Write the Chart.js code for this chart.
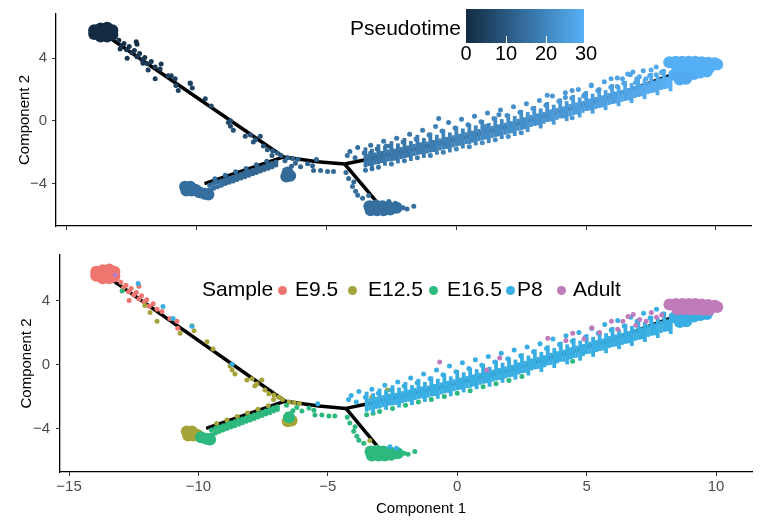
<!DOCTYPE html>
<html>
<head>
<meta charset="utf-8">
<script src="https://cdn.jsdelivr.net/npm/chart.js@4.4.0/dist/chart.umd.min.js"></script>
<style>
  body { margin: 0; background: #fff; }
  #page { position: relative; width: 763px; height: 528px; overflow: hidden; font-family: "Liberation Sans", Arial, sans-serif; }
  .panel { position: absolute; left: 0; width: 763px; }
  #topPanel { top: 0; height: 240px; }
  #botPanel { top: 240px; height: 288px; }
  .lbl { position: absolute; white-space: nowrap; line-height: 1; color: #000; }
  .dot { position: absolute; width: 9px; height: 9px; border-radius: 50%; }
</style>
</head>
<body>
<div id="page">
  <div class="panel" id="topPanel"><canvas id="topChart"></canvas></div>
  <div class="panel" id="botPanel"><canvas id="botChart"></canvas></div>
</div>
<script>
// axis ticks
const xTicks = [-15, -10, -5, 0, 5, 10];
const yTicks = [-4, 0, 4];
const pseudotimeTicks = [0, 10, 20, 30];
const samples = ['E9.5', 'E12.5', 'E16.5', 'P8', 'Adult'];

// cells as [component1, component2, pseudotime]; "core" = dense blobs of cells
const e95Core = [[-13.95,5.55,0],[-13.95,5.8,0],[-13.7,5.4,0],[-13.7,5.65,0],[-13.7,5.9,0],[-13.45,5.4,0],
  [-13.45,5.65,0],[-13.45,5.95,0],[-13.25,5.5,0],[-13.25,5.8,0]];
const e95Cells = [[-13.0,5.15,1],[-12.9,4.8,1],[-12.8,4.95,1],[-12.7,4.55,1],[-12.6,4.75,1],[-12.5,4.35,2],
  [-12.4,4.5,2],[-12.3,4.1,2],[-12.2,4.3,2],[-12.1,3.9,2],[-12.0,4.05,2],[-11.9,3.65,3],[-11.75,3.8,3],
  [-11.6,3.45,3],[-11.41,3.32,3],[-11.1,2.88,4],[-10.83,2.7,4],[-10.8,2.26,5],[-12.68,4.0,2],[-12.3,4.9,1]];

const e125Core = [[-10.45,-4.2,15],[-10.25,-4.2,15],[-10.4,-4.45,15],[-10.2,-4.45,15],[-10.05,-4.4,15],
  [-6.55,-3.55,14],[-6.4,-3.5,14]];
const e125Cells = [[-11.6,2.7,4],[-12.07,3.69,3],[-11.87,3.25,4],[-10.71,1.95,5],[-10.25,2.43,5],[-10.17,2.11,5],
  [-9.67,1.42,6],[-9.44,0.96,6],[-8.78,-0.1,7],[-8.7,-0.34,7],[-8.59,-0.6,8],[-8.13,-0.97,8],[-7.93,-0.9,8],
  [-7.74,-1.2,9],[-7.55,-0.97,9],[-7.43,-1.6,9],[-7.28,-1.84,10],[-7.82,-1.35,9],[-7.08,-1.91,10],[-6.9,-2.05,11],
  [-6.75,-2.2,11],[-6.5,-2.35,12],[-6.3,-2.4,12],[-7.1,-2.2,10],[-6.1,-2.45,12],
  [-9.3,-3.69,15],[-8.9,-3.47,14],[-8.5,-3.25,14],[-8.1,-3.03,14],[-7.7,-2.8,13],[-7.3,-2.58,13],
  [-3.38,-4.76,15],[-3.3,-2.05,16],[-2.7,-1.6,16]];

const e165Core = [[-9.9,-4.55,15],[-9.7,-4.65,15],[-9.55,-4.7,15],[-6.5,-3.3,14],
  [-3.35,-5.45,15],[-3.1,-5.4,15],[-2.85,-5.45,15],[-2.6,-5.5,15],[-3.3,-5.7,15],[-3.05,-5.7,15],
  [-2.8,-5.7,15],[-2.55,-5.65,15],[-2.3,-5.55,15]];
const e165Cells = [[-9.5,-4.1,15],[-9.5,-4.4,15],[-9.35,-4.0,15],[-9.35,-4.3,15],[-9.2,-3.92,15],[-9.2,-4.2,15],
  [-9.05,-3.84,15],[-9.05,-4.1,15],[-8.9,-3.75,14],[-8.9,-4.0,14],[-8.75,-3.67,14],[-8.75,-3.92,14],
  [-8.6,-3.59,14],[-8.6,-3.83,14],[-8.45,-3.5,14],[-8.45,-3.74,14],[-8.3,-3.42,14],[-8.3,-3.65,14],
  [-8.15,-3.34,14],[-8.15,-3.56,14],[-8.0,-3.25,14],[-8.0,-3.47,14],[-7.85,-3.17,13],[-7.85,-3.38,13],
  [-7.7,-3.09,13],[-7.7,-3.29,13],[-7.55,-3.0,13],[-7.55,-3.2,13],[-7.4,-2.92,13],[-7.4,-3.1,13],
  [-7.25,-2.84,13],[-7.25,-3.02,13],[-7.1,-2.72,13],[-7.1,-2.92,13],[-6.95,-2.64,13],[-6.95,-2.82,13],
  [-6.6,-2.55,13],[-6.2,-2.7,13],[-6.0,-2.92,13],[-5.73,-2.73,13],[-5.54,-2.86,13],[-5.5,-3.17,13],[-5.23,-3.17,14],
  [-4.96,-3.23,14],[-4.73,-3.23,14],[-6.35,-2.9,13],
  [-4.25,-3.3,14],[-4.15,-3.67,14],[-3.95,-3.9,14],[-4.0,-4.18,15],[-3.88,-4.49,15],[-3.8,-4.74,15],[-3.61,-4.93,15],
  [-2.05,-5.55,15],[-1.9,-5.62,15],[-1.64,-5.45,15],[-12.95,4.6,1],
  [-3.5,-3.15,16],[-3.25,-3.05,16],[-3.0,-2.95,16],[-2.5,-2.75,17],[-2.0,-2.55,17],[-1.5,-2.35,18],[-1.0,-2.2,18],
  [-0.5,-2.0,19],[0.0,-1.8,20],[0.5,-1.65,20],[1.0,-1.4,21],[1.5,-1.2,21],[2.0,-1.0,22],[2.5,-0.75,22],[4.46,0.2,24]];

const p8Core = [[8.4,2.95,28],[8.65,2.9,28],[8.9,2.95,28],[9.15,3.0,28],[9.4,3.1,29],[9.65,3.15,29],
  [8.6,2.65,28],[8.85,2.7,28]];
// vertical combs of cells along the main branch (long and short ones)
const p8Streaks = [[-3.5,-2.33,16],[-3.25,-2.42,16],[-3.0,-2.13,16],[-2.75,-2.22,17],[-2.5,-1.93,17],[-2.25,-2.07,17],
  [-2.0,-1.73,17],[-1.75,-1.92,18],[-1.5,-1.53,18],[-1.25,-1.72,18],[-1.0,-1.38,18],[-0.75,-1.52,19],[-0.5,-1.18,19],
  [-0.25,-1.37,19],[0.0,-0.98,20],[0.25,-1.12,20],[0.5,-0.83,20],[0.75,-0.92,20],[1.0,-0.58,21],[1.25,-0.77,21],
  [1.5,-0.38,21],[1.75,-0.52,21],[2.0,-0.18,22],[2.25,-0.32,22],[2.5,0.07,22],[2.75,-0.07,23],[3.0,0.32,23],
  [3.25,0.16,23],[3.5,0.57,23],[3.75,0.4,24],[4.0,0.8,24],[4.25,0.63,24],[4.5,1.02,25],[4.75,0.86,25],
  [5.0,1.27,25],[5.25,1.1,25],[5.5,1.47,26],[5.75,1.33,26],[6.0,1.72,26],[6.25,1.58,27],[6.5,1.92,27],
  [6.75,1.78,27],[7.0,2.17,27],[7.25,2.03,28],[7.5,2.42,28],[7.75,2.28,28],[8.0,2.67,29],[8.25,2.53,29]];
const p8ShortStreaks = [[-3.375,-2.5,16],[-3.125,-2.4,16],[-2.875,-2.3,16],[-2.625,-2.2,17],[-2.375,-2.15,17],
  [-2.125,-2.05,17],[-1.875,-1.95,17],[-1.625,-1.85,18],[-1.375,-1.75,18],[-1.125,-1.7,18],[-0.875,-1.6,18],
  [-0.625,-1.5,19],[-0.375,-1.4,19],[-0.125,-1.3,19],[0.125,-1.2,20],[0.375,-1.1,20],[0.625,-1.0,20],
  [0.875,-0.9,20],[1.125,-0.8,21],[1.375,-0.7,21],[1.625,-0.6,21],[1.875,-0.5,21],[2.125,-0.4,22],
  [2.375,-0.25,22],[2.625,-0.15,22],[2.875,0.0,23],[3.125,0.1,23],[3.375,0.2,23],[3.625,0.35,24],
  [3.875,0.45,24],[4.125,0.55,24],[4.375,0.7,24],[4.625,0.8,25],[4.875,0.9,25],[5.125,1.05,25],[5.375,1.15,25],
  [5.625,1.25,26],[5.875,1.4,26],[6.125,1.5,26],[6.375,1.6,27],[6.625,1.7,27],[6.875,1.85,27],[7.125,1.95,28],
  [7.375,2.1,28],[7.625,2.2,28],[7.875,2.35,28],[8.125,2.45,29]];
const p8Cells = [[-4.1,-1.95,15],[-3.8,-1.7,15],[-3.55,-2.05,16],[-3.3,-1.55,16],[-3.05,-1.8,16],[-2.8,-1.3,16],
  [-2.55,-1.6,17],[-2.3,-1.1,17],[-2.05,-1.35,17],[-1.8,-0.85,17],[-1.55,-1.15,18],[-1.3,-0.6,18],[-1.05,-0.9,18],
  [-0.8,-0.35,19],[-0.55,-0.65,19],[-0.3,-0.1,19],[-0.05,-0.45,19],[0.2,0.1,20],[0.45,-0.25,20],[0.7,0.3,20],
  [0.95,-0.05,20],[1.2,0.5,21],[1.45,0.15,21],[1.7,0.7,21],[1.95,0.35,22],[2.2,0.9,22],[2.45,0.55,22],
  [2.7,1.1,23],[2.95,0.8,23],[3.2,1.3,23],[3.45,1.0,23],[3.7,1.6,24],[3.95,1.25,24],[4.2,1.8,24],[4.45,1.45,24],
  [4.7,2.0,25],[4.95,1.7,25],[5.2,2.25,25],[5.45,1.95,26],[5.7,2.5,26],[5.95,2.15,26],[6.2,2.75,26],
  [6.45,2.4,27],[6.7,2.95,27],[6.95,2.7,27],[7.2,3.2,27],[7.45,2.9,28],[7.7,3.45,28],[7.95,3.15,28],
  [-4.2,-2.2,15],[-3.9,-2.35,15],
  [-12.33,5.06,1],[-11.37,3.63,3],[-10.98,2.88,4],[-10.25,2.39,5],[-8.7,0.02,7],[-5.39,-2.46,13],
  [-2.6,-5.15,15],[-2.35,-5.25,15]];

const adultCore = [[8.2,3.75,29],[8.45,3.78,29],[8.7,3.78,29],[8.95,3.78,29],[9.2,3.78,29],[9.45,3.75,29],
  [9.7,3.72,29],[9.95,3.68,29],[8.5,3.45,29],[8.75,3.45,29],[9.0,3.45,29],[9.25,3.45,29],[9.5,3.42,29],
  [9.75,3.42,29],[10.05,3.6,29]];
const adultCells = [[3.5,1.64,24],[4.46,1.95,24],[4.9,1.6,25],[5.5,2.0,25],[5.96,2.7,26],[6.4,2.7,26],[6.8,3.13,27],
  [7.05,2.82,27],[6.9,2.45,27],[7.5,3.25,28],[7.7,2.95,28],[-0.68,0.15,19],[1.64,0.4,21],[1.14,-0.35,21],
  [5.2,2.3,25],[6.2,2.2,26],[7.3,2.7,28],[7.9,3.1,28],[4.2,1.5,24],[6.6,3.0,27],[-13.22,5.6,0]];

// trajectory tree edges
const trajectory = [
  [[-13.3,5.25],[-6.65,-2.3]],
  [[-9.7,-4.0],[-6.65,-2.3]],
  [[-6.65,-2.3],[-5.35,-2.6],[-4.3,-2.75]],
  [[-4.3,-2.75],[-3.1,-5.1]],
  [[-4.3,-2.75],[-3.5,-2.48],[-0.7,-1.45],[1.9,-0.41],[3.8,0.52],[5.8,1.45],[8.4,3.0]]
];

const sampleCells = [e95Cells, e125Cells, e165Cells, p8Cells, adultCells];
const sampleCores = [e95Core, e125Core, e165Core, p8Core, adultCore];
const sampleStreaks = [[], [], [], p8Streaks, []];
const sampleShortStreaks = [[], [], [], p8ShortStreaks, []];
const sampleColors = ['#EE766F', '#A4A43A', '#2DB87E', '#38AEE3', '#C07BBA'];

const PT_LOW = [19, 43, 67], PT_HIGH = [86, 177, 247], PT_MAX = 29.5;
function ptColor(t) {
  const f = Math.max(0, Math.min(1, t / PT_MAX));
  const c = PT_LOW.map((lo, i) => Math.round(lo + (PT_HIGH[i] - lo) * f));
  return `rgb(${c[0]},${c[1]},${c[2]})`;
}

const fmt = (v) => (v < 0 ? '\u2212' + Math.abs(v) : String(v));
const toPts = (arr) => arr.map(([x, y, t]) => ({ x, y, t }));

Chart.defaults.font.family = '"Liberation Sans", Arial, sans-serif';

function makeChart(id, cfg) {
  const datasets = [];
  trajectory.forEach((edge) => {
    datasets.push({
      data: edge.map(([x, y]) => ({ x, y })),
      showLine: true, pointRadius: 0, borderColor: '#000', borderWidth: 3.5,
      borderJoinStyle: 'round', order: 100,
    });
  });
  samples.forEach((s, i) => {
    const color = cfg.byTime ? (ctx) => ptColor(ctx.raw ? ctx.raw.t : 0) : sampleColors[i];
    datasets.push({
      label: s + ' core', data: toPts(sampleCores[i]), pointRadius: 6, pointBorderWidth: 0,
      pointBackgroundColor: color, order: 60 - i * 4,
    });
    datasets.push({
      label: s + ' comb', data: toPts(sampleStreaks[i]), pointStyle: 'line', rotation: 90,
      pointRadius: 10, pointBorderWidth: 3.8, pointBorderColor: color, order: 59 - i * 4,
    });
    datasets.push({
      label: s + ' short comb', data: toPts(sampleShortStreaks[i]), pointStyle: 'line', rotation: 90,
      pointRadius: 6, pointBorderWidth: 3.2, pointBorderColor: color, order: 58 - i * 4,
    });
    datasets.push({
      label: s, data: toPts(sampleCells[i]), pointRadius: 2.5, pointBorderWidth: 0,
      pointBackgroundColor: color, order: 57 - i * 4,
    });
  });

  return new Chart(document.getElementById(id), {
    type: 'scatter',
    data: { datasets },
    options: {
      responsive: true,
      maintainAspectRatio: false,
      animation: false,
      events: [],
      layout: { autoPadding: false, padding: { left: 0, top: 13, right: cfg.padRight, bottom: 0 } },
      plugins: { legend: { display: false }, tooltip: { enabled: false } },
      scales: {
        x: {
          type: 'linear', min: cfg.xMin, max: cfg.xMax,
          afterBuildTicks: (s) => { s.ticks = xTicks.map((v) => ({ value: v })); },
          afterFit: (s) => { s.height = cfg.xHeight; },
          border: { display: true, color: '#000', width: 1.3 },
          grid: { drawOnChartArea: false, drawTicks: true, tickLength: 4, color: '#333' },
          ticks: { display: cfg.xLabels, color: '#4D4D4D', font: { size: 15 }, padding: 2, callback: fmt, maxRotation: 0 },
        },
        y: {
          type: 'linear', min: cfg.yMin, max: cfg.yMax,
          afterBuildTicks: (s) => { s.ticks = yTicks.map((v) => ({ value: v })); },
          afterFit: (s) => { s.width = cfg.yWidth; },
          border: { display: true, color: '#000', width: 1.3 },
          grid: { drawOnChartArea: false, drawTicks: true, tickLength: 4, color: '#333' },
          ticks: { color: '#4D4D4D', font: { size: 15 }, padding: cfg.yPad, callback: fmt },
          title: { display: true, text: 'Component 2', color: '#000', font: { size: 15 }, padding: { top: cfg.titlePad, bottom: 0 } },
        },
      },
    },
  });
}

makeChart('topChart', {
  byTime: true, xMin: -15.42, xMax: 11.35, yMin: -6.71, yMax: 6.83,
  padRight: 12, xHeight: 12, yWidth: 56, yPad: 5, titlePad: 16, xLabels: false,
});
makeChart('botChart', {
  byTime: false, xMin: -15.35, xMax: 11.39, yMin: -6.73, yMax: 6.85,
  padRight: 11, xHeight: 56, yWidth: 60, yPad: 6, titlePad: 18, xLabels: true,
});

// overlays: x title, pseudotime colourbar, sample legend
const page = document.getElementById('page');
function addLabel(text, left, top, size, center) {
  const d = document.createElement('div');
  d.className = 'lbl';
  d.textContent = text;
  d.style.left = left + 'px';
  d.style.top = top + 'px';
  d.style.fontSize = size + 'px';
  if (center) d.style.transform = 'translateX(-50%)';
  page.appendChild(d);
  return d;
}
addLabel('Component 1', 421, 500, 15, true);

addLabel('Pseudotime', 350, 17, 21, false);
const bar = document.createElement('div');
bar.style.cssText = 'position:absolute;left:466px;top:9px;width:118px;height:34px;background:linear-gradient(to right,#132B43,#56B1F7);';
page.appendChild(bar);
pseudotimeTicks.forEach((t) => {
  const x = 466 + t * 4;
  if (t > 0 && t < PT_MAX) {
    const m = document.createElement('div');
    m.style.cssText = `position:absolute;left:${x}px;top:36px;width:1px;height:7px;background:#fff;`;
    page.appendChild(m);
  }
  addLabel(String(t), x, 43, 20, true);
});

addLabel('Sample', 202, 278, 21, false);
const dotX = [282, 352, 433, 510, 561];
const textX = [295, 368, 447, 517, 573];
samples.forEach((s, i) => {
  const d = document.createElement('div');
  d.className = 'dot';
  d.style.left = (dotX[i] - 4.5) + 'px';
  d.style.top = (290 - 4.5) + 'px';
  d.style.background = sampleColors[i];
  page.appendChild(d);
  addLabel(s, textX[i], 278, 21, false);
});
</script>
</body>
</html>
